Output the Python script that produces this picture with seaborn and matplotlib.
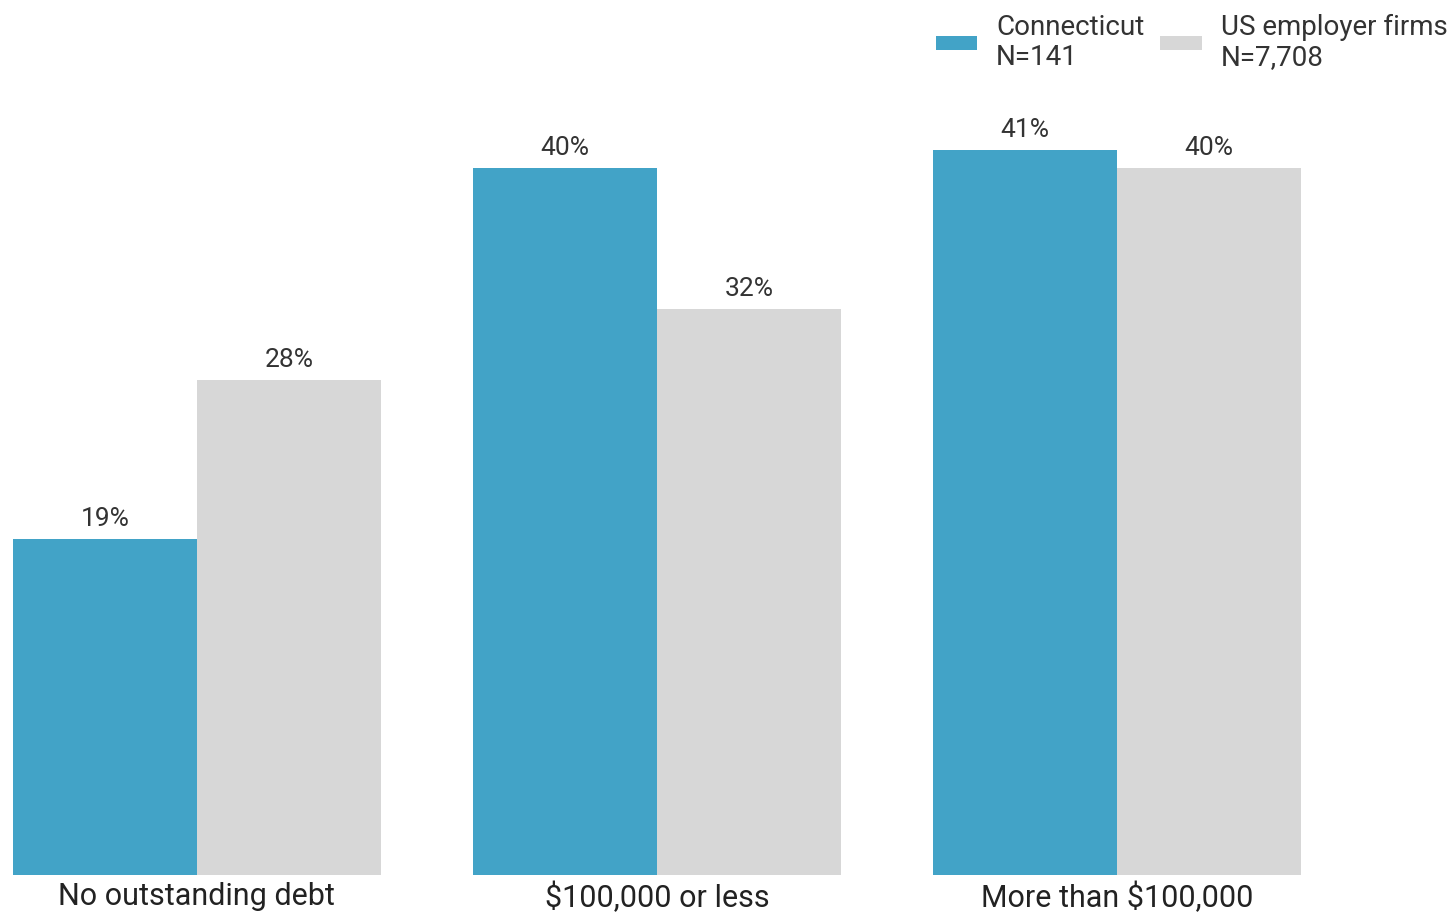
import numpy as np
import pandas as pd
import matplotlib
matplotlib.use("Agg")
import matplotlib.pyplot as plt
import seaborn as sns

sns.set_style("white")
plt.rcParams["font.family"] = ["Roboto", "DejaVu Sans"]

# data
categories = ["No outstanding debt", "$100,000 or less", "More than $100,000"]
series = ["Connecticut\nN=141", "US employer firms\nN=7,708"]
connecticut = [19, 40, 41]
us_firms = [28, 32, 40]
colors = ["#42A3C7", "#D7D7D7"]

df = pd.DataFrame({
    "category": categories * 2,
    "series": [series[0]] * 3 + [series[1]] * 3,
    "value": connecticut + us_firms,
})

fig = plt.figure(figsize=(14.53, 9.13), dpi=100)
ax = fig.add_axes([0, 38 / 913, 1, 875 / 913])

sns.barplot(data=df, x="category", y="value", hue="series", palette=colors,
            width=0.8, saturation=1, linewidth=0, ax=ax, legend=True)

for c in ax.containers:
    ax.bar_label(c, fmt="%.0f%%", padding=6, fontsize=19, color="#333333")

ax.set_xlim(-0.428, 2.73)
ax.set_ylim(0, 49.5)
ax.set_xlabel("")
ax.set_ylabel("")
ax.set_yticks([])
ax.tick_params(axis="x", length=0, pad=5, labelsize=22, labelcolor="#222222")
for s in ax.spines.values():
    s.set_visible(False)

handles, labels = ax.get_legend_handles_labels()
ax.get_legend().remove()
leg = fig.legend(handles, labels, loc="upper right", bbox_to_anchor=(1.0098, 1.006),
                 ncol=2, frameon=False, fontsize=20, handlelength=1.5,
                 handleheight=0.43, handletextpad=0.68, columnspacing=0.58,
                 labelcolor="#333333", labelspacing=0.2, borderaxespad=0.3)
for t in leg.get_texts():
    t.set_linespacing(1.12)

fig.savefig("out.png", dpi=100)
